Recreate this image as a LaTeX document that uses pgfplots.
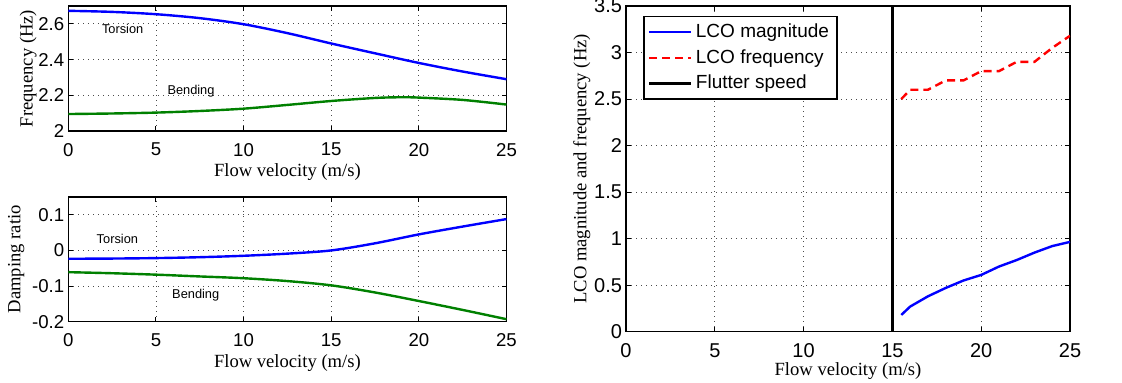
\documentclass[border=0pt]{standalone}
\usepackage{fontspec}
\setmainfont{Liberation Serif}
\setsansfont{Liberation Sans}
\usepackage{pgfplots}
\pgfplotsset{compat=1.18}

\pgfplotsset{
  matlab/.style={
    scale only axis,
    axis line style={line width=0.6pt},
    every tick/.style={black, line width=0.5pt},
    major tick length=2.5pt,
    tick align=inside,
    xtick pos=both, ytick pos=both,
    grid=major,
    major grid style={black!70, line width=0.4pt, dash pattern=on 0.5pt off 2pt},
    xmin=0, xmax=25, xtick={0,5,...,25},
    /pgf/number format/assume math mode=true,
    tick label style={font=\fontsize{9.3}{10}\selectfont\sffamily},
    xticklabel style={yshift=-2.5pt},
    yticklabel style={xshift=1.5pt},
    label style={font=\fontsize{9.3}{10}\selectfont},
    xlabel={Flow velocity (m/s)},
    xlabel style={yshift=3pt},
    every axis plot/.append style={line width=1.2pt},
  },
}
\tikzset{note/.style={font=\fontsize{6.4}{7}\selectfont\sffamily, black}}

\begin{document}
\begin{tikzpicture}[x=1pt,y=1pt]
\path[use as bounding box] (0,0) rectangle (561,191.5);

% Natural frequencies
\begin{axis}[matlab, at={(34.15pt,126pt)}, anchor=south west,
  width=219.1pt, height=62.5pt,
  ymin=2, ymax=2.7, ytick={2,2.2,2.4,2.6}, yticklabels={2,2.2,2.4,2.6},
  ylabel={Frequency (Hz)}, ylabel style={yshift=-6pt}]
\addplot[blue, smooth] coordinates {
  (0,2.673) (2.5,2.667) (5,2.654) (7.5,2.632) (10,2.598) (12.5,2.548)
  (15,2.490) (17.5,2.435) (20,2.381) (22.5,2.333) (25,2.290)};
\addplot[green!50!black, smooth] coordinates {
  (0,2.095) (2.5,2.098) (5,2.103) (7.5,2.112) (10,2.125) (12.5,2.146)
  (15,2.168) (17.5,2.185) (19,2.189) (20,2.187) (22.5,2.174) (25,2.148)};
\node[note] at (axis cs:3.1,2.57) {Torsion};
\node[note] at (axis cs:7.0,2.224) {Bending};
\end{axis}

% Damping ratios
\begin{axis}[matlab, at={(34.15pt,30.65pt)}, anchor=south west,
  width=219.1pt, height=62.35pt,
  ymin=-0.2, ymax=0.15, ytick={-0.2,-0.1,0,0.1}, yticklabels={-0.2,-0.1,0,0.1},
  ylabel={Damping ratio}, ylabel style={yshift=-3pt}]
\addplot[blue, smooth] coordinates {
  (0,-0.0234) (2.5,-0.0228) (5,-0.0215) (7.5,-0.019) (10,-0.015) (12.5,-0.009)
  (15,0.0) (17.5,0.020) (20,0.045) (22.5,0.067) (25,0.088)};
\addplot[green!50!black, smooth] coordinates {
  (0,-0.061) (2.5,-0.064) (5,-0.068) (7.5,-0.073) (10,-0.078) (12.5,-0.086)
  (15,-0.098) (17.5,-0.118) (20,-0.142) (22.5,-0.167) (25,-0.193)};
\node[note] at (axis cs:2.8,0.031) {Torsion};
\node[note] at (axis cs:7.27,-0.1256) {Bending};
\end{axis}

% Limit cycle oscillations
\begin{axis}[matlab, at={(313pt,25.65pt)}, anchor=south west,
  width=222pt, height=162.85pt,
  ymin=0, ymax=3.5, ytick={0,0.5,...,3.5},
  yticklabels={0,0.5,1,1.5,2,2.5,3,3.5},
  tick label style={font=\fontsize{10}{11}\selectfont\sffamily},
  ylabel={LCO magnitude and frequency (Hz)}, ylabel style={yshift=-5pt},
  xlabel style={yshift=1.5pt},
  legend style={at={(0.039,0.969)}, anchor=north west,
    font=\fontsize{9.5}{11}\selectfont\sffamily, draw=black, line width=0.6pt,
    inner xsep=2pt, inner ysep=1.5pt, row sep=0.5pt},
  legend cell align=left,
  legend image code/.code={\draw[#1] (0pt,0pt) -- (20.8pt,0pt);}]
\addplot[blue] coordinates {
  (15.5,0.18) (16,0.27) (17,0.38) (18,0.47) (19,0.55) (20,0.61)
  (21,0.70) (22,0.77) (23,0.85) (24,0.92) (25,0.965)};
\addlegendentry{LCO magnitude}
\addplot[red, dash pattern=on 4pt off 2.5pt] coordinates {
  (15.5,2.5) (16,2.6) (17,2.6) (18,2.7) (19,2.7) (20,2.8)
  (21,2.8) (22,2.9) (23,2.9) (24,3.05) (25,3.18)};
\addlegendentry{LCO frequency}
\addplot[black] coordinates {(15,0) (15,3.5)};
\addlegendentry{Flutter speed}
\end{axis}
\end{tikzpicture}
\end{document}
